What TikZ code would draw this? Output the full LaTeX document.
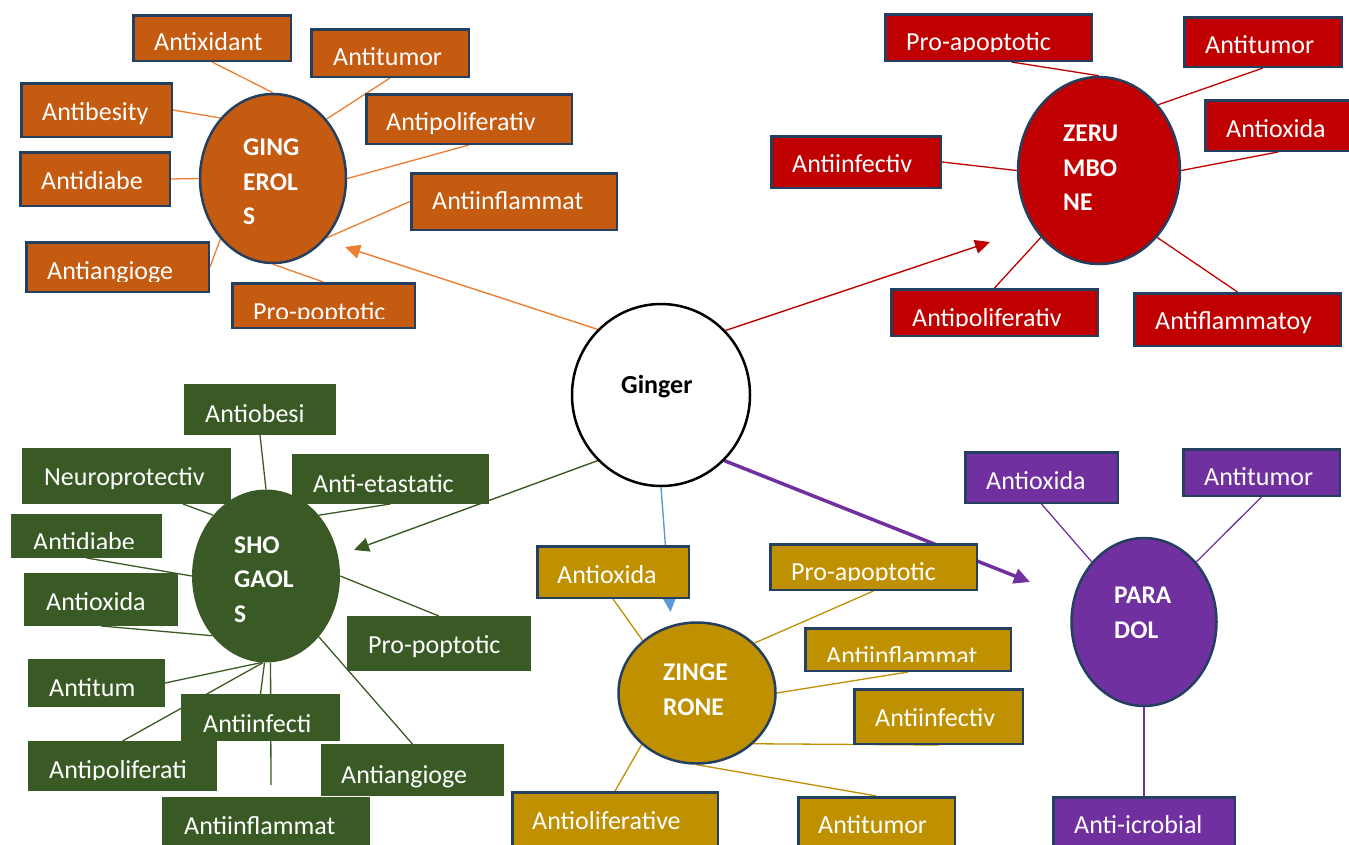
\documentclass[tikz,border=0pt]{standalone}
\usepackage{fontspec}
\setmainfont{Carlito}
\usetikzlibrary{arrows.meta,shapes.geometric,calc}
\pgfdeclarelayer{bg}
\pgfsetlayers{bg,main}
\definecolor{cOr}{HTML}{C55A11}
\definecolor{cOrL}{HTML}{ED7D31}
\definecolor{cRd}{HTML}{C00000}
\definecolor{cGr}{HTML}{3A5A25}
\definecolor{cGd}{HTML}{BF9000}
\definecolor{cPu}{HTML}{7030A0}
\definecolor{cBl}{HTML}{5B9BD5}
\definecolor{cBd}{HTML}{243F60}
% box: style, name, x1, x2, y1, y2
\newcommand\bxn[6]{\node[#1, minimum width={(#4)-(#3)-2.5}, minimum height={(#6)-(#5)-2.5}] (#2) at ({((#3)+(#4))/2},{((#5)+(#6))/2}) {};}
% text: name, x, baseline, text
\newcommand\tx[4]{\node[lbl] (#1) at (#2,#3) {#4};}
% clipped text: name, x, baseline, text, x1, y1, x2, clip y
\newcommand\ctx[8]{\begin{scope}\clip (#5,#6) rectangle (#7,#8); \node[lbl] (#1) at (#2,#3) {#4};\end{scope}}
\begin{document}
\begin{tikzpicture}[x=1pt,y=-1pt,
  box/.style={rectangle, draw=cBd, line width=2.5pt, inner sep=0pt},
  gbox/.style={box, fill=cOr},
  rbox/.style={box, fill=cRd},
  sbox/.style={rectangle, fill=cGr, inner sep=0pt},
  ybox/.style={box, fill=cGd},
  pbox/.style={box, fill=cPu},
  lbl/.style={anchor=base west, inner sep=0pt, text=white, font=\fontsize{26}{30}\selectfont},
  el/.style={ellipse, draw=cBd, line width=2.5pt, inner sep=0pt},
  elab/.style={anchor=north west, inner sep=0pt, text=white, align=left, font=\bfseries\fontsize{25.5}{34.5}\selectfont},
  conn/.style={line width=1.3pt},
  arr/.style={-{Triangle[length=15pt,width=14pt]}, line width=1.4pt},
]
\useasboundingbox (0,0) rectangle (1349,844);

% ---------- centre ----------
\node[ellipse, draw=black, fill=white, line width=2.5pt, minimum width=178, minimum height=182, inner sep=0pt] (gin) at (661,395) {};
\node[anchor=base west, inner sep=0pt, font=\bfseries\fontsize{26}{30}\selectfont] (gint) at (621,393) {Ginger};

% ---------- compound ellipses ----------
\node[el, fill=cOr, minimum width=146, minimum height=169] (ging) at (273,178.5) {};
\node[el, fill=cRd, minimum width=162, minimum height=187] (zer) at (1099,170.5) {};
\node[ellipse, fill=cGr, inner sep=0pt, minimum width=148, minimum height=173] (sho) at (266,576) {};
\node[el, fill=cGd, minimum width=157, minimum height=141] (zin) at (697,693) {};
\node[el, fill=cPu, minimum width=145, minimum height=168] (par) at (1144,622) {};

\node[elab] (gingt) at (243,139) {GING\\EROL\\S};
\node[elab] (zert) at (1063,125) {ZERU\\MBO\\NE};
\node[elab] (shot) at (234,536.4) {SHO\\GAOL\\S};
\node[elab] (zint) at (663,664) {ZINGE\\RONE};
\node[elab] (part) at (1114,587.2) {PARA\\DOL};

% ---------- arrow / connector free end points ----------
\coordinate (gingA) at (345,247);
\coordinate (zerA) at (990,242);
\coordinate (shoA) at (354,550);
\coordinate (zinA) at (670.5,612);
\coordinate (parA) at (1030,582);
\coordinate (sflEnd) at (271,785);

% ---------- boxes ----------
\bxn{gbox}{gAox}{132}{292}{14}{62}
\bxn{gbox}{gAtu}{310}{470}{28}{78}
\bxn{gbox}{gAob}{20}{173}{82}{138}
\bxn{gbox}{gApr}{365}{573}{93}{145}
\bxn{gbox}{gAdi}{19}{171}{151}{207}
\bxn{gbox}{gAin}{410}{618}{172}{231}
\bxn{gbox}{gAan}{25}{210}{241}{293}
\bxn{gbox}{gPro}{231}{416}{282}{329}

\bxn{rbox}{rPro}{884}{1093}{13}{62}
\bxn{rbox}{rAtu}{1183}{1343}{16}{68}
\bxn{rbox}{rAox}{1204}{1352}{99}{152}
\bxn{rbox}{rAif}{770}{942}{135}{189}
\bxn{rbox}{rApr}{890}{1099}{288}{337}
\bxn{rbox}{rAfl}{1133}{1342}{292}{347}

\bxn{sbox}{sAob}{183}{337}{383}{436}
\bxn{sbox}{sNeu}{21}{232}{447}{505}
\bxn{sbox}{sAme}{291}{490}{453}{505}
\bxn{sbox}{sAdi}{10}{163}{513}{559}
\bxn{sbox}{sAox}{23}{179}{572}{627}
\bxn{sbox}{sPro}{346}{532}{615}{672}
\bxn{sbox}{sAtu}{27}{166}{658}{708}
\bxn{sbox}{sApr}{27}{218}{740}{792}
\bxn{sbox}{sAif}{180}{341}{693}{742}
\bxn{sbox}{sAan}{320}{505}{743}{797}
\bxn{sbox}{sAfl}{161}{371}{796}{850}

\bxn{ybox}{zAox}{536}{690}{545}{599}
\bxn{ybox}{zPro}{769}{978}{543}{591}
\bxn{ybox}{zAfl}{804}{1012}{627}{672}
\bxn{ybox}{zAif}{853}{1024}{688}{745}
\bxn{ybox}{zApr}{511}{719}{791}{850}
\bxn{ybox}{zAtu}{797}{956}{796}{850}

\bxn{pbox}{pAox}{964}{1119}{451}{504}
\bxn{pbox}{pAtu}{1182}{1341}{448}{497}
\bxn{pbox}{pAmi}{1052}{1236}{796}{850}

% ---------- labels ----------
\tx{t1}{154}{50}{Antixidant}
\tx{t2}{333}{65}{Antitumor}
\tx{t3}{42}{120}{Antibesity}
\tx{t4}{386}{130}{Antipoliferativ}
\tx{t5}{41}{189}{Antidiabe}
\tx{t6}{432}{209}{Antiinflammat}
\ctx{t7}{47}{279}{Antiangioge}{25}{241}{210}{281}
\ctx{t8}{253}{320}{Pro-poptotic}{231}{282}{416}{318}

\ctx{t9}{906}{50}{Pro-apoptotic}{884}{13}{1093}{51}
\tx{t10}{1205}{53}{Antitumor}
\tx{t11}{1226}{137}{Antioxida}
\tx{t12}{792}{172}{Antiinfectiv}
\ctx{t13}{912}{326}{Antipoliferativ}{890}{288}{1099}{326.5}
\tx{t14}{1155}{329}{Antiflammatoy}

\tx{t15}{205}{422}{Antiobesi}
\tx{t16}{44}{485}{Neuroprotectiv}
\tx{t17}{313}{492}{Anti-etastatic}
\ctx{t18}{33}{550.5}{Antidiabe}{10}{513}{163}{548.5}
\tx{t19}{46}{610}{Antioxida}
\tx{t20}{368}{653}{Pro-poptotic}
\tx{t21}{49}{696}{Antitum}
\ctx{t22}{49}{778.5}{Antipoliferati}{27}{740}{218}{779}
\tx{t23}{203}{732}{Antiinfecti}
\tx{t24}{341}{783}{Antiangioge}
\tx{t25}{184}{834}{Antiinflammat}

\tx{t26}{557}{583}{Antioxida}
\ctx{t27}{791}{580.5}{Pro-apoptotic}{769}{543}{978}{580.5}
\ctx{t28}{826}{664}{Antiinflammat}{804}{627}{1012}{661}
\tx{t29}{875}{726}{Antiinfectiv}
\tx{t30}{532}{829}{Antioliferative}
\tx{t31}{818}{833}{Antitumor}

\tx{t32}{986}{489}{Antioxida}
\tx{t33}{1204}{485}{Antitumor}
\tx{t34}{1074}{833}{Anti-icrobial}

% ---------- arrows and connectors, behind the shapes ----------
\begin{pgfonlayer}{bg}
\draw[arr, cOrL] (gin.134.6) -- (gingA);
\draw[arr, cRd] (gin.45) -- (zerA);
\draw[arr, cGr] (gin.-134) -- (shoA);
\draw[arr, cBl, -{Triangle[length=14pt,width=13pt]}] (gin.south) -- (zinA);
\draw[arr, cPu, line width=3.5pt, -{Triangle[length=16pt,width=15pt]}] (gin.-46) -- (parA);

\begin{scope}[conn, cOrL]
\draw (gAox.south) -- (ging.north);
\draw (gAtu.south) -- (ging.48);
\draw (gAob.east) -- (ging.131);
\draw (gApr.south) -- (ging.east);
\draw (gAdi.east) -- (ging.west);
\draw (gAin.west) -- (ging.-48);
\draw (gAan.east) -- (ging.-131);
\draw (gPro.north) -- (ging.south);
\end{scope}
\begin{scope}[conn, cRd]
\draw ($(rPro.south west)!0.61!(rPro.south east)$) -- (zer.north);
\draw (rAtu.south) -- (zer.48);
\draw (rAox.south) -- (zer.east);
\draw (rAif.east) -- (zer.west);
\draw (rApr.north) -- (zer.-131);
\draw (rAfl.north) -- (zer.-49);
\end{scope}
\begin{scope}[conn, cGr]
\draw (sAob.south) -- (sho.north);
\draw ($(sNeu.south west)!0.77!(sNeu.south east)$) -- (sho.131.5);
\draw (sAme.south) -- (sho.49);
\draw (sAdi.south) -- (sho.west);
\draw (sAox.south) -- (sho.-132);
\draw (sPro.north) -- (sho.east);
\draw (sAtu.east) -- (sho.-93);
\draw (sApr.north) -- (sho.-92);
\draw (sAif.north) -- (sho.-91);
\draw (sho.-87) -- (sflEnd);
\draw (sAan.north) -- (sho.-49);
\end{scope}
\begin{scope}[conn, cGd]
\draw (zAox.south) -- (zin.136.6);
\draw (zPro.south) -- (zin.41);
\draw (zAfl.south) -- (zin.east);
\draw (zin.-42) -- (zAif.south);
\draw (zApr.north) -- (zin.-137);
\draw (zAtu.north) -- (zin.south);
\end{scope}
\begin{scope}[conn, cPu]
\draw (pAox.south) -- (par.131.5);
\draw (pAtu.south) -- (par.49);
\draw (par.south) -- (pAmi.north);
\end{scope}
\end{pgfonlayer}
\end{tikzpicture}
\end{document}
